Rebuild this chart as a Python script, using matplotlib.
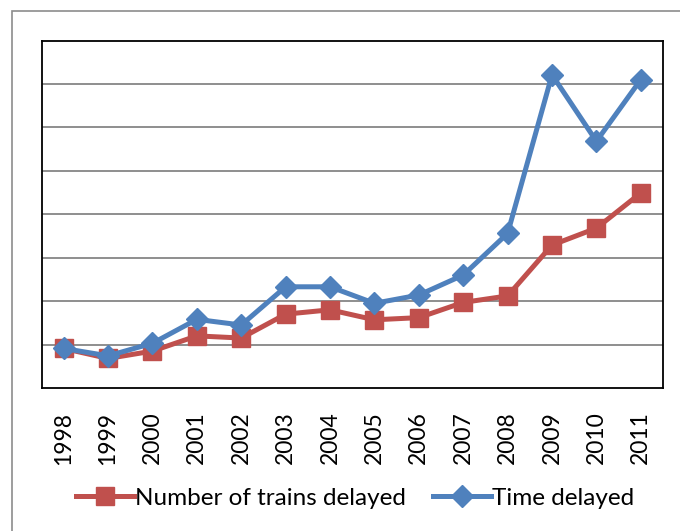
import numpy as np
import matplotlib.pyplot as plt
from matplotlib.patches import Rectangle

plt.rcParams['font.family'] = ['Lato', 'DejaVu Sans']

years = ['1998', '1999', '2000', '2001', '2002', '2003', '2004',
         '2005', '2006', '2007', '2008', '2009', '2010', '2011']
trains = [0.91, 0.68, 0.85, 1.20, 1.15, 1.70, 1.80,
          1.57, 1.62, 1.97, 2.12, 3.29, 3.68, 4.49]
time_delayed = [0.91, 0.74, 1.03, 1.58, 1.45, 2.33, 2.33,
                1.95, 2.14, 2.60, 3.56, 7.21, 5.68, 7.10]

red = '#C0504D'
blue = '#4F81BD'

fig = plt.figure(figsize=(6.8, 5.31), dpi=100)
ax = fig.add_axes([41.5 / 680, 1 - 388 / 531, (663 - 41.5) / 680, (388 - 40.5) / 531])

# outer chart frame (cropped at right/bottom)
fig.patches.append(Rectangle((12 / 680, -0.1), 2, 1.1 - 11 / 531, transform=fig.transFigure,
                             fill=False, edgecolor='#8c8c8c', linewidth=1.2))

x = np.arange(len(years))
ax.plot(x, trains, color=red, linewidth=3.6, marker='s', markersize=13,
        label='Number of trains delayed', zorder=3)
ax.plot(x, time_delayed, color=blue, linewidth=3.6, marker='D', markersize=11.5,
        label='Time delayed', zorder=4)

ax.set_xlim(-0.5, len(years) - 0.5)
ax.set_ylim(0, 8)
ax.set_yticks(np.arange(1, 8))
ax.set_yticklabels([])
ax.tick_params(axis='y', length=0)
ax.set_xticks(x)
ax.set_xticklabels(years, rotation=90, fontsize=16.5)
ax.tick_params(axis='x', length=0, pad=17)
ax.grid(axis='y', color='#868686', linewidth=1.3)
ax.set_axisbelow(True)
for s in ax.spines.values():
    s.set_color('black')
    s.set_linewidth(1.3)

fig.legend(loc='center', bbox_to_anchor=(355 / 680, 1 - 498 / 531), ncol=2,
           frameon=False, fontsize=17.5, handlelength=2.4, columnspacing=1.1,
           handletextpad=0.05)

fig.savefig('out.png', dpi=100)
